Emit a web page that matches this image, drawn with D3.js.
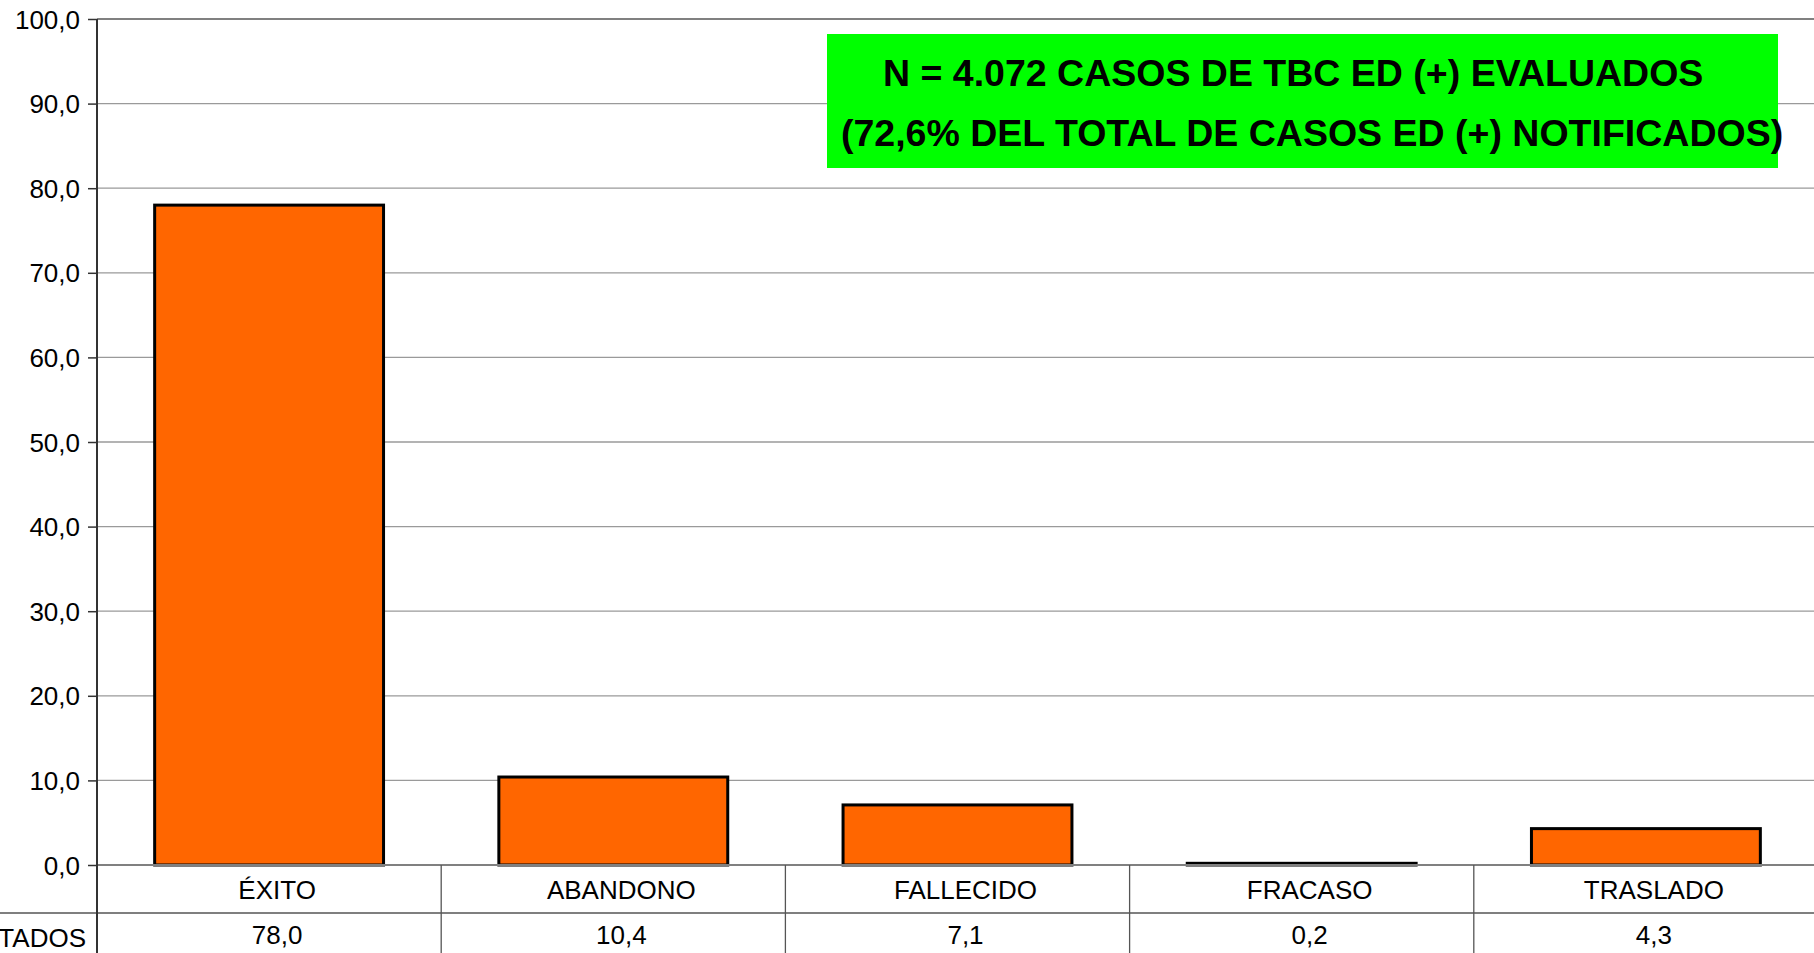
<!DOCTYPE html>
<html><head><meta charset="utf-8">
<script src="https://cdn.jsdelivr.net/npm/d3@7"></script>
<style>html,body{margin:0;padding:0;background:#fff;overflow:hidden}svg{display:block}</style>
</head><body>
<svg id="c" width="1814" height="953"></svg>
<script>
const categories = ["ÉXITO", "ABANDONO", "FALLECIDO", "FRACASO", "TRASLADO"];
const values = [78.0, 10.4, 7.1, 0.2, 4.3];
const valueLabels = ["78,0", "10,4", "7,1", "0,2", "4,3"];
const rowLabel = "RESULTADOS";
const yTicks = [0, 10, 20, 30, 40, 50, 60, 70, 80, 90, 100];
const noteLines = ["N = 4.072 CASOS DE TBC ED (+) EVALUADOS", "(72,6% DEL TOTAL DE CASOS ED (+) NOTIFICADOS)"];

(function () {
const svg = d3.select("#c");
const pL = 97, pR = 1818, pT = 19, pB = 865;
const font = "Liberation Sans, Arial, sans-serif";

const x = d3.scaleBand().domain(categories).range([pL, pR]).paddingInner(0.335).paddingOuter(0.1675);
const y = d3.scaleLinear().domain([0, 100]).range([pB, pT]);
const fmt = d => d3.format(".1f")(d).replace(".", ",");

// gridlines
svg.append("g").selectAll("line").data(yTicks.filter(d => d > 0)).join("line")
  .attr("x1", pL).attr("x2", 1814).attr("y1", d => y(d)).attr("y2", d => y(d))
  .attr("stroke", d => d === 100 ? "#808080" : "#9a9a9a").attr("stroke-width", d => d === 100 ? 2 : 1.3);

// y axis
const yAxis = d3.axisLeft(y).tickValues(yTicks).tickFormat(fmt).tickSize(9).tickPadding(8);
const ga = svg.append("g").attr("transform", `translate(${pL},0)`).call(yAxis);
ga.select(".domain").remove();
ga.selectAll(".tick line").attr("stroke", "#333").attr("stroke-width", 1.5);
ga.selectAll(".tick text").attr("font-family", font).attr("font-size", 26).attr("fill", "#000").attr("dy", "0.35em");

// bars
svg.append("g").selectAll("rect").data(values).join("rect")
  .attr("x", (d, i) => x(categories[i]))
  .attr("width", x.bandwidth())
  .attr("y", d => y(d))
  .attr("height", d => y(0) - y(d))
  .attr("fill", "#FF6600").attr("stroke", "#000").attr("stroke-width", 3);

// baseline
svg.append("line").attr("x1", pL).attr("x2", 1814).attr("y1", y(0)).attr("y2", y(0))
  .attr("stroke", "#808080").attr("stroke-width", 2);

// table
const step = x.step();
const colBounds = categories.map((c, i) => pL + i * step);
svg.append("g").selectAll("line").data(colBounds.slice(1)).join("line")
  .attr("x1", d => d).attr("x2", d => d).attr("y1", y(0)).attr("y2", 953)
  .attr("stroke", "#555").attr("stroke-width", 1.3);
svg.append("line").attr("x1", 0).attr("x2", 1814).attr("y1", 913).attr("y2", 913)
  .attr("stroke", "#555").attr("stroke-width", 1.3);
// y axis line
svg.append("line").attr("x1", pL).attr("x2", pL).attr("y1", pT).attr("y2", 953)
  .attr("stroke", "#333").attr("stroke-width", 2);

const lblShift = 8;
svg.append("g").selectAll("text").data(categories).join("text")
  .attr("x", d => x(d) + x.bandwidth() / 2 + lblShift).attr("y", 899)
  .attr("text-anchor", "middle").attr("font-family", font).attr("font-size", 26).text(d => d);
svg.append("g").selectAll("text").data(valueLabels).join("text")
  .attr("x", (d, i) => x(categories[i]) + x.bandwidth() / 2 + lblShift).attr("y", 944)
  .attr("text-anchor", "middle").attr("font-family", font).attr("font-size", 26).text(d => d);
svg.append("text").attr("x", 86).attr("y", 947).attr("text-anchor", "end")
  .attr("font-family", font).attr("font-size", 26).text(rowLabel);

// annotation box
svg.append("rect").attr("x", 827).attr("y", 34).attr("width", 951).attr("height", 134).attr("fill", "#00FF00");
svg.append("text").attr("x", 883).attr("y", 86).attr("font-family", font).attr("font-weight", "bold")
  .attr("font-size", 37.5).text(noteLines[0]);
svg.append("text").attr("x", 841).attr("y", 146).attr("font-family", font).attr("font-weight", "bold")
  .attr("font-size", 37.5).text(noteLines[1]);
})();
</script>
</body></html>
